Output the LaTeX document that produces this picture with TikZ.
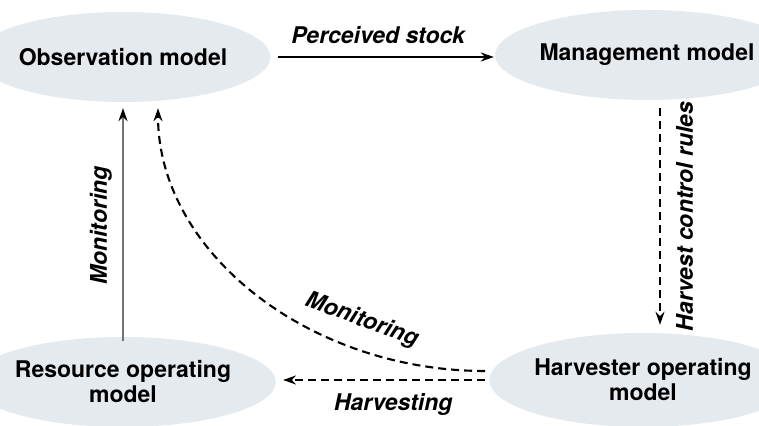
\documentclass[tikz,border=0pt]{standalone}
\usepackage{fontspec}
\setmainfont{TeX Gyre Heros}
\usepackage{graphicx}
\usetikzlibrary{shapes.geometric}
\usetikzlibrary{arrows.meta}
\definecolor{modelfill}{RGB}{228,234,238}

\begin{document}
\begin{tikzpicture}[
    x=1pt, y=1pt,
    model/.style={ellipse, fill=modelfill, minimum width=236pt, minimum height=90pt, inner sep=0pt, align=center, font=\fontsize{23}{25}\selectfont\bfseries},
    lbl/.style={font=\fontsize{23}{25}\selectfont\bfseries\itshape, inner sep=3pt},
    flow/.style={-{Stealth[length=13pt, width=9pt, black]}, line width=2.1pt},
    dflow/.style={flow, dash pattern=on 8pt off 5pt}
]
\useasboundingbox (0,0) rectangle (759,425);

% Models
\node[model] (obs) at (123,368) {Observation model};
\node[model, minimum width=230pt] (mgmt) at (647,370) {Management model};
\node[model] (res) at (123,43) {Resource operating\\model};
\node[model, minimum width=234pt, minimum height=94pt] (harv) at (643,45) {Harvester operating\\model};

% Solid links
\draw[flow, shorten <=7pt, shorten >=1pt] (obs.east) -- node[lbl, above=9pt, pos=0.48] {Perceived stock} (obs.east -| mgmt.west);
\draw[flow, draw=black!55, shorten <=-4pt, shorten >=6pt] (res.north) -- node[lbl, left=7pt, midway, yshift=-6pt] {\rotatebox{90}{Monitoring}} (obs.south);

% Dashed links
\draw[dflow, shorten <=8pt, shorten >=8pt] ([xshift=13pt]mgmt.south) -- node[lbl, right=12pt, midway] {\rotatebox{90}{Harvest control rules}} ([xshift=13pt]mgmt.south |- harv.north);
\draw[dflow, shorten <=4pt, shorten >=7pt] (harv.west) -- node[lbl, below=9pt, pos=0.45] {Harvesting} (harv.west -| res.east);
\draw[dflow, shorten <=4pt, shorten >=6pt] ([yshift=9pt]harv.west) .. controls +(-180,0) and +(0,-150) .. ([xshift=35pt]obs.south)
    node[lbl, pos=0.27, sloped, above=13pt] {Monitoring};
\end{tikzpicture}
\end{document}
